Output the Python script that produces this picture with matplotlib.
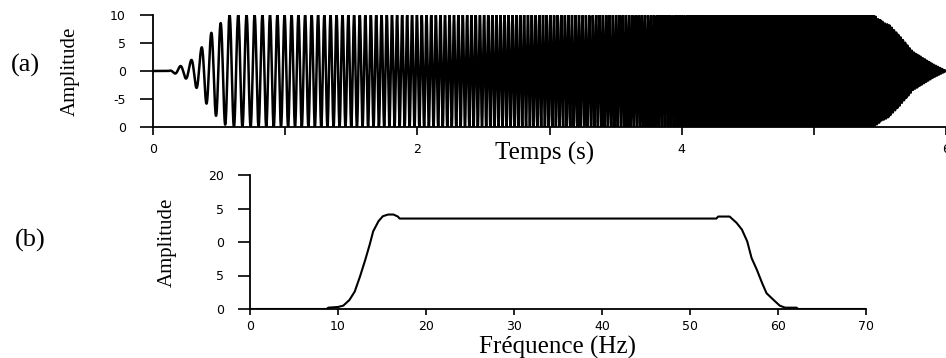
import numpy as np
import matplotlib.pyplot as plt

# (a) swept sine: sweep parameters and envelope
t_start, t_end = 0.0, 6.0
f_start, f_end = 10.0, 62.0          # Hz
sample_rate = 1000.0                 # samples / s
env_t = [0.0, 0.12, 0.15, 0.20, 0.28, 0.32, 0.36, 0.39, 0.43, 0.47, 0.51, 0.56,
         5.45, 5.52, 5.57, 5.65, 5.75, 5.90, 6.0]
env_a = [0.0, 0.0, 0.3, 0.8, 1.7, 2.8, 3.8, 5.5, 6.4, 7.9, 8.5, 10.0,
         10.0, 8.8, 8.2, 6.2, 3.4, 1.2, 0.0]

# (b) amplitude spectrum
freq = [0, 8.7, 8.9, 10.0, 10.6, 11.3, 11.9, 12.5, 13.1, 13.6, 14.0, 14.6, 15.1,
        15.7, 16.3, 16.8, 17.0, 53.0, 53.2, 54.5, 55.3, 55.9, 56.5, 57.0, 57.6,
        58.2, 58.7, 59.5, 60.2, 60.8, 62.1, 62.3, 70]
spec = [0, 0, 0.2, 0.3, 0.5, 1.35, 2.6, 4.85, 7.35, 9.6, 11.6, 13.1, 13.85,
        14.1, 14.1, 13.8, 13.5, 13.5, 13.8, 13.8, 12.85, 11.85, 10.1, 7.6, 5.85,
        3.85, 2.35, 1.35, 0.5, 0.2, 0.2, 0, 0]

top_yticks = [-10, -5, 0, 5, 10]
top_ylabels = ['0', '-5', '0', '5', '10']      # left part of labels cut in the original
top_xticks = [0, 2, 4, 6]
bot_yticks = [0, 5, 10, 15, 20]
bot_ylabels = ['0', '5', '0', '5', '20']
bot_xticks = [0, 10, 20, 30, 40, 50, 60, 70]

t = np.arange(t_start, t_end + 1e-9, 1.0 / sample_rate)
phase = 2 * np.pi * (f_start * t + 0.5 * (f_end - f_start) / (t_end - t_start) * t ** 2)
signal = np.interp(t, env_t, env_a) * np.sin(phase)

serif = 'Liberation Serif'
tickfont = 'DejaVu Sans'

fig = plt.figure(figsize=(9.46, 3.58), dpi=100)

ax1 = fig.add_axes([153 / 946, 1 - 127 / 358, 793 / 946, 112 / 358])
ax1.plot(t, signal, color='black', lw=1.8)
ax1.set_xlim(0, 6)
ax1.set_ylim(-10, 10)
ax1.set_yticks(top_yticks)
ax1.set_yticklabels(top_ylabels, family=tickfont, fontsize=9)
ax1.set_xticks(top_xticks)
ax1.set_xticks([1, 3, 5], minor=True)
ax1.set_xticklabels([str(v) for v in top_xticks], family=tickfont, fontsize=9)
ax1.tick_params(axis='y', direction='out', length=9.5, width=1.2, pad=10)
ax1.tick_params(axis='x', which='both', direction='out', length=5.5, width=1.2, pad=6)
ax1.set_ylabel('Amplitude', family=serif, fontsize=15)
ax1.yaxis.set_label_coords(-73 / 793, 0.5)
fig.text(25 / 946, 1 - 65 / 358, '(a)', family=serif, fontsize=19,
         ha='center', va='center')
fig.text(545 / 946, 1 - 153 / 358, 'Temps (s)', family=serif, fontsize=18,
         ha='center', va='center')

ax2 = fig.add_axes([250 / 946, 1 - 309 / 358, 616 / 946, 134 / 358])
ax2.plot(freq, spec, color='black', lw=1.5)
ax2.set_xlim(0, 70)
ax2.set_ylim(0, 20)
ax2.set_yticks(bot_yticks)
ax2.set_yticklabels(bot_ylabels, family=tickfont, fontsize=9)
ax2.set_xticks(bot_xticks)
ax2.set_xticklabels([str(v) for v in bot_xticks], family=tickfont, fontsize=9)
ax2.tick_params(axis='y', direction='out', length=8.5, width=1.2, pad=10)
ax2.tick_params(axis='x', direction='out', length=4, width=1.2, pad=4)
ax2.set_ylabel('Amplitude', family=serif, fontsize=15)
ax2.yaxis.set_label_coords(-73 / 616, 0.5)
fig.text(30 / 946, 1 - 240 / 358, '(b)', family=serif, fontsize=19,
         ha='center', va='center')
fig.text(557 / 946, 1 - 347 / 358, 'Fréquence (Hz)', family=serif, fontsize=18,
         ha='center', va='center')

for ax in (ax1, ax2):
    for side in ('top', 'right'):
        ax.spines[side].set_visible(False)
    for side in ('left', 'bottom'):
        ax.spines[side].set_linewidth(1.3)

fig.savefig('out.png', dpi=100)
